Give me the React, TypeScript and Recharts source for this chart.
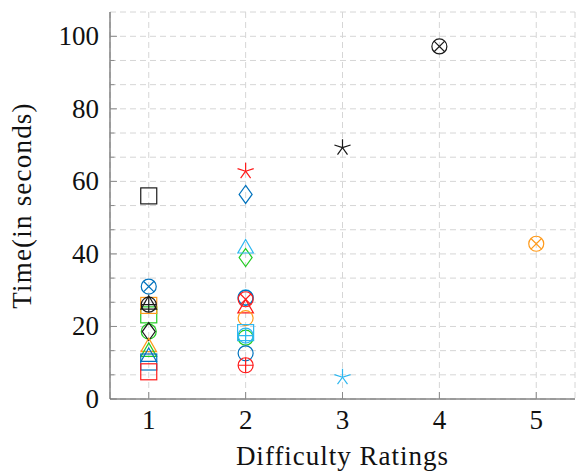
import { ScatterChart, Scatter, XAxis, YAxis, CartesianGrid, Label } from 'recharts';

interface Pt {
  x: number;
  y: number;
}

type Kind = 'circle' | 'ox' | 'oplus' | 'square' | 'diamond' | 'triangle' | 'star';

// tick values
const xTicks = [1, 2, 3, 4, 5];
const yTicks = [0, 6.667, 13.333, 20, 26.667, 33.333, 40, 46.667, 53.333, 60, 66.667, 73.333, 80, 86.667, 93.333, 100];
const yLabels = [0, 20, 40, 60, 80, 100];

// readings, one array per colour / marker
const blueOx: Pt[] = [{ x: 1, y: 31 }];
const blueSquare: Pt[] = [{ x: 1, y: 10.2 }];
const blueTriangle: Pt[] = [{ x: 1, y: 11.6 }];
const blueDiamond: Pt[] = [{ x: 2, y: 56.4 }];
const blueCircle: Pt[] = [{ x: 2, y: 27.9 }, { x: 2, y: 12.6 }];

const redSquare: Pt[] = [{ x: 1, y: 7.5 }];
const redStar: Pt[] = [{ x: 2, y: 62.8 }];
const redOx: Pt[] = [{ x: 2, y: 27.5 }];
const redTriangle: Pt[] = [{ x: 2, y: 25 }];
const redOplus: Pt[] = [{ x: 2, y: 9.3 }];

const orangeSquare: Pt[] = [{ x: 1, y: 25.8 }];
const orangeTriangle: Pt[] = [{ x: 1, y: 14.3 }];
const orangeCircle: Pt[] = [{ x: 2, y: 22.3 }];
const orangeOx: Pt[] = [{ x: 5, y: 42.8 }];

const greenSquare: Pt[] = [{ x: 1, y: 23.2 }];
const greenCircle: Pt[] = [{ x: 1, y: 18.6 }, { x: 2, y: 16.9 }];
const greenTriangle: Pt[] = [{ x: 1, y: 13 }];
const greenDiamond: Pt[] = [{ x: 2, y: 39 }];

const blackSquare: Pt[] = [{ x: 1, y: 56 }];
const blackOplus: Pt[] = [{ x: 1, y: 26 }];
const blackTriangle: Pt[] = [{ x: 1, y: 26 }];
const blackDiamond: Pt[] = [{ x: 1, y: 18.6 }];
const blackStar: Pt[] = [{ x: 3, y: 69.3 }];
const blackOx: Pt[] = [{ x: 4, y: 97.2 }];

const cyanTriangle: Pt[] = [{ x: 2, y: 41.5 }];
const cyanCircle: Pt[] = [{ x: 2, y: 28 }];
const cyanSquare: Pt[] = [{ x: 2, y: 18.3 }];
const cyanOplus: Pt[] = [{ x: 2, y: 17.5 }];
const cyanStar: Pt[] = [{ x: 3, y: 6 }];

const BLUE = '#0072BD';
const RED = '#FF1A1A';
const ORANGE = '#FF9A1A';
const GREEN = '#22CC22';
const BLACK = '#1a1a1a';
const CYAN = '#2DB7F0';

const series: { name: string; data: Pt[]; kind: Kind; color: string }[] = [
  { name: 'blackSquare', data: blackSquare, kind: 'square', color: BLACK },
  { name: 'greenSquare', data: greenSquare, kind: 'square', color: GREEN },
  { name: 'orangeSquare', data: orangeSquare, kind: 'square', color: ORANGE },
  { name: 'blueOx', data: blueOx, kind: 'ox', color: BLUE },
  { name: 'blackOplus', data: blackOplus, kind: 'oplus', color: BLACK },
  { name: 'blackTriangle', data: blackTriangle, kind: 'triangle', color: BLACK },
  { name: 'greenCircle', data: greenCircle, kind: 'circle', color: GREEN },
  { name: 'blackDiamond', data: blackDiamond, kind: 'diamond', color: BLACK },
  { name: 'orangeTriangle', data: orangeTriangle, kind: 'triangle', color: ORANGE },
  { name: 'greenTriangle', data: greenTriangle, kind: 'triangle', color: GREEN },
  { name: 'blueSquare', data: blueSquare, kind: 'square', color: BLUE },
  { name: 'blueTriangle', data: blueTriangle, kind: 'triangle', color: BLUE },
  { name: 'redSquare', data: redSquare, kind: 'square', color: RED },
  { name: 'redStar', data: redStar, kind: 'star', color: RED },
  { name: 'blueDiamond', data: blueDiamond, kind: 'diamond', color: BLUE },
  { name: 'greenDiamond', data: greenDiamond, kind: 'diamond', color: GREEN },
  { name: 'cyanTriangle', data: cyanTriangle, kind: 'triangle', color: CYAN },
  { name: 'cyanCircle', data: cyanCircle, kind: 'circle', color: CYAN },
  { name: 'blueCircle', data: blueCircle, kind: 'circle', color: BLUE },
  { name: 'redOx', data: redOx, kind: 'ox', color: RED },
  { name: 'redTriangle', data: redTriangle, kind: 'triangle', color: RED },
  { name: 'orangeCircle', data: orangeCircle, kind: 'circle', color: ORANGE },
  { name: 'cyanSquare', data: cyanSquare, kind: 'square', color: CYAN },
  { name: 'cyanOplus', data: cyanOplus, kind: 'oplus', color: CYAN },
  { name: 'redOplus', data: redOplus, kind: 'oplus', color: RED },
  { name: 'blackStar', data: blackStar, kind: 'star', color: BLACK },
  { name: 'cyanStar', data: cyanStar, kind: 'star', color: CYAN },
  { name: 'blackOx', data: blackOx, kind: 'ox', color: BLACK },
  { name: 'orangeOx', data: orangeOx, kind: 'ox', color: ORANGE },
];

const FONT = '"Liberation Serif", "DejaVu Serif", serif';
const FRAME = '#4a4a4a';
const TICK = '#8a8a8a';

const Marker = ({ cx, cy, kind, color }: { cx?: number; cy?: number; kind: Kind; color: string }) => {
  if (cx == null || cy == null) return null;
  const p = { fill: 'none', stroke: color, strokeWidth: 1.2 };
  const r = 7.5;
  const d = r * 0.7071;
  switch (kind) {
    case 'circle':
      return <circle cx={cx} cy={cy} r={r} {...p} />;
    case 'ox':
      return (
        <g {...p}>
          <circle cx={cx} cy={cy} r={r} />
          <path d={`M${cx - d},${cy - d}L${cx + d},${cy + d}M${cx - d},${cy + d}L${cx + d},${cy - d}`} />
        </g>
      );
    case 'oplus':
      return (
        <g {...p}>
          <circle cx={cx} cy={cy} r={r} />
          <path d={`M${cx - r},${cy}L${cx + r},${cy}M${cx},${cy - r}L${cx},${cy + r}`} />
        </g>
      );
    case 'square':
      return <rect x={cx - 8} y={cy - 8} width={16} height={16} {...p} />;
    case 'diamond':
      return <path d={`M${cx},${cy - 9}L${cx + 6.5},${cy}L${cx},${cy + 9}L${cx - 6.5},${cy}Z`} {...p} />;
    case 'triangle':
      return <path d={`M${cx},${cy - 9}L${cx + 7.8},${cy + 4.5}L${cx - 7.8},${cy + 4.5}Z`} {...p} />;
    case 'star': {
      let s = '';
      for (let i = 0; i < 5; i++) {
        const a = -Math.PI / 2 + (i * 2 * Math.PI) / 5;
        s += `M${cx},${cy}L${cx + 8.5 * Math.cos(a)},${cy + 8.5 * Math.sin(a)}`;
      }
      return <path d={s} {...p} />;
    }
  }
  return null;
};

const isMajor = (v: number) => yLabels.some((l) => Math.abs(l - v) < 0.01);

const LeftTick = (props: any) => {
  const { x, y, payload } = props;
  const major = isMajor(payload.value);
  return (
    <g>
      <line x1={x} x2={x + (major ? 7 : 4.5)} y1={y} y2={y} stroke={TICK} />
      {major && (
        <text x={x - 11} y={y + 9} textAnchor="end" fontFamily={FONT} fontSize={27} fill="#111">
          {Math.round(payload.value)}
        </text>
      )}
    </g>
  );
};

const RightTick = (props: any) => {
  const { x, y, payload } = props;
  const major = isMajor(payload.value);
  return <line x1={x} x2={x - (major ? 7 : 4.5)} y1={y} y2={y} stroke={TICK} />;
};

const BottomTick = (props: any) => {
  const { x, y, payload } = props;
  return (
    <g>
      <line x1={x} x2={x} y1={y} y2={y - 7} stroke={TICK} />
      <text x={x} y={y + 29.5} textAnchor="middle" fontFamily={FONT} fontSize={27} fill="#111">
        {payload.value}
      </text>
    </g>
  );
};

const TopTick = (props: any) => {
  const { x, y } = props;
  return <line x1={x} x2={x} y1={y} y2={y + 7} stroke={TICK} />;
};

const XTitle = (props: any) => {
  const vb = props.viewBox;
  return (
    <text x={vb.x + vb.width / 2} y={vb.y + 66} textAnchor="middle" fontFamily={FONT} fontSize={27} letterSpacing={1} fill="#111">
      Difficulty Ratings
    </text>
  );
};

const YTitle = (props: any) => {
  const vb = props.viewBox;
  const cx = vb.x + 31;
  const cy = vb.y + vb.height / 2;
  return (
    <text x={cx} y={cy} transform={`rotate(-90 ${cx} ${cy})`} textAnchor="middle" fontFamily={FONT} fontSize={27} letterSpacing={1.2} fill="#111">
      Time(in seconds)
    </text>
  );
};

export default function App() {
  return (
    <div style={{ position: 'absolute', left: 0, top: 0, background: '#fff' }}>
      <ScatterChart width={577} height={473} margin={{ top: 12, right: 2, left: 0, bottom: 0 }}>
        <CartesianGrid xAxisId="x" yAxisId="y" stroke="#d6d6d6" strokeDasharray="6 4" />
        <XAxis
          xAxisId="x"
          dataKey="x"
          type="number"
          domain={[0.6, 5.4]}
          ticks={xTicks}
          interval={0}
          allowDataOverflow
          height={74}
          tickSize={0}
          tickMargin={0}
          tickLine={false}
          axisLine={{ stroke: FRAME }}
          tick={BottomTick}
        >
          <Label content={XTitle} />
        </XAxis>
        <XAxis
          xAxisId="top"
          orientation="top"
          type="number"
          domain={[0.6, 5.4]}
          ticks={xTicks}
          interval={0}
          allowDataOverflow
          height={0}
          tickSize={0}
          tickMargin={0}
          tickLine={false}
          axisLine={{ stroke: FRAME }}
          tick={TopTick}
        />
        <YAxis
          yAxisId="y"
          dataKey="y"
          type="number"
          domain={[0, 106.7]}
          ticks={yTicks}
          interval={0}
          allowDataOverflow
          width={110}
          tickSize={0}
          tickMargin={0}
          tickLine={false}
          axisLine={{ stroke: FRAME }}
          tick={LeftTick}
        >
          <Label content={YTitle} />
        </YAxis>
        <YAxis
          yAxisId="right"
          orientation="right"
          type="number"
          domain={[0, 106.7]}
          ticks={yTicks}
          interval={0}
          allowDataOverflow
          width={0}
          tickSize={0}
          tickMargin={0}
          tickLine={false}
          axisLine={{ stroke: FRAME }}
          tick={RightTick}
        />
        {series.map((s) => (
          <Scatter
            key={s.name}
            name={s.name}
            data={s.data}
            xAxisId="x"
            yAxisId="y"
            isAnimationActive={false}
            shape={(p: any) => <Marker cx={p.cx} cy={p.cy} kind={s.kind} color={s.color} />}
          />
        ))}
      </ScatterChart>
    </div>
  );
}
